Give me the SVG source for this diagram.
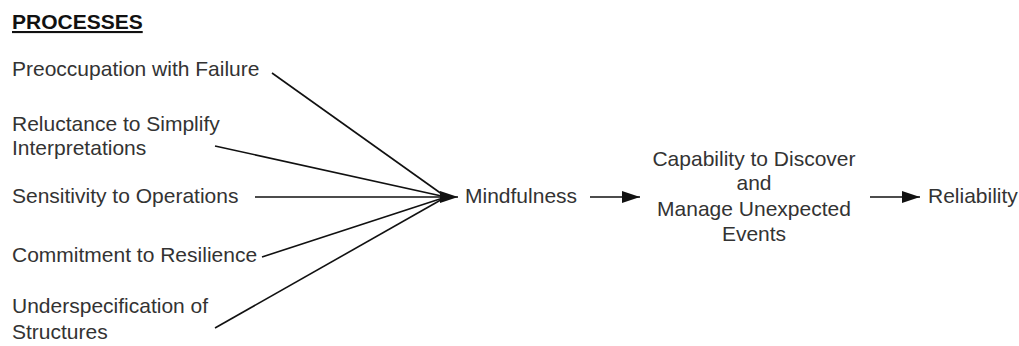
<svg xmlns="http://www.w3.org/2000/svg" width="1019" height="346" viewBox="0 0 1019 346">
<style>
text{font-family:"Liberation Sans",Arial,sans-serif;font-size:21px;fill:#333}
.t{font-weight:bold;fill:#111;text-decoration:underline}
.c{text-anchor:middle}
.ln{stroke:#111;stroke-width:1.6;fill:none}
</style>
<defs>
<marker id="ah" markerUnits="userSpaceOnUse" markerWidth="19" markerHeight="13" refX="18" refY="6" orient="auto">
<path d="M0,0 L18,6 L0,12 z" fill="#111"/>
</marker>
</defs>
<rect width="1019" height="346" fill="#fff"/>
<g id="title"><text class="t" x="12" y="29">PROCESSES</text></g>
<g id="n-preoccupation"><text x="12" y="76">Preoccupation with Failure</text></g>
<g id="n-reluctance"><text x="12" y="131">Reluctance to Simplify</text><text x="12" y="155">Interpretations</text></g>
<g id="n-sensitivity"><text x="12" y="203">Sensitivity to Operations</text></g>
<g id="n-commitment"><text x="12" y="262">Commitment to Resilience</text></g>
<g id="n-underspecification"><text x="12" y="313">Underspecification of</text><text x="12" y="339">Structures</text></g>
<g id="n-mindfulness"><text x="465" y="203">Mindfulness</text></g>
<g id="n-capability"><text class="c" x="754" y="166">Capability to Discover</text><text class="c" x="754" y="190">and</text><text class="c" x="754" y="216">Manage Unexpected</text><text class="c" x="754" y="241">Events</text></g>
<g id="n-reliability"><text x="928" y="203">Reliability</text></g>
<g id="connectors">
<line class="ln" x1="272" y1="73" x2="446" y2="197"/>
<line class="ln" x1="215" y1="146" x2="446" y2="197"/>
<line class="ln" x1="255" y1="197" x2="458" y2="197" marker-end="url(#ah)"/>
<line class="ln" x1="262" y1="257" x2="446" y2="197"/>
<line class="ln" x1="215" y1="328" x2="446" y2="197"/>
<line class="ln" x1="590" y1="197" x2="640" y2="197" marker-end="url(#ah)"/>
<line class="ln" x1="870" y1="197" x2="920" y2="197" marker-end="url(#ah)"/>
</g>
</svg>
